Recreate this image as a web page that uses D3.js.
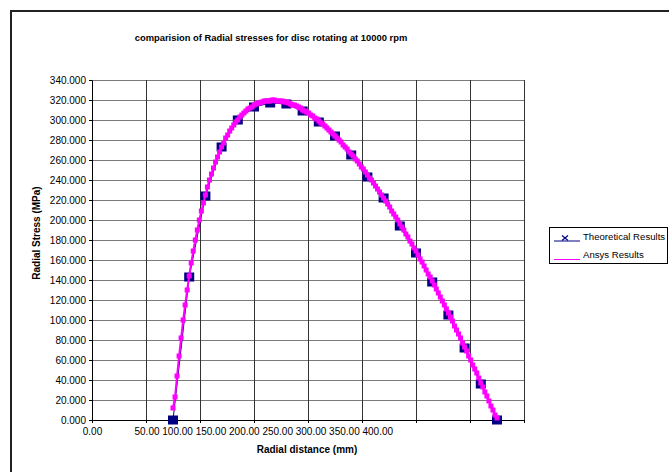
<!DOCTYPE html>
<html>
<head>
<meta charset="utf-8">
<script src="https://cdn.jsdelivr.net/npm/d3@7"></script>
<style>
  body { margin: 0; background: #fff; }
  text { font-family: Arial, "Liberation Sans", sans-serif; fill: #000; }
</style>
</head>
<body>
<svg id="chart"></svg>
<script>
// theoretical results (navy squares), radius in mm, stress in MPa
const theoRadius = [75, 90, 105, 120, 135, 150, 165, 180, 195, 210, 225, 240, 255, 270, 285, 300, 315, 330, 345, 360, 375]
const theoStress = [0, 143, 224, 273, 300, 313, 317, 316, 309, 298, 284, 265, 243, 222, 194, 167, 138, 105, 72, 36, 0]

// ansys path results (magenta)
const ansysRadius = [
  75, 76.875, 78.75, 80.625, 82.5, 84.375, 86.25, 88.125,
  90, 91.875, 93.75, 95.625, 97.5, 99.375, 101.25, 103.125,
  105, 106.875, 108.75, 110.625, 112.5, 114.375, 116.25, 118.125,
  120, 121.875, 123.75, 125.625, 127.5, 129.375, 131.25, 133.125,
  135, 136.875, 138.75, 140.625, 142.5, 144.375, 146.25, 148.125,
  150, 151.875, 153.75, 155.625, 157.5, 159.375, 161.25, 163.125,
  165, 166.875, 168.75, 170.625, 172.5, 174.375, 176.25, 178.125,
  180, 181.875, 183.75, 185.625, 187.5, 189.375, 191.25, 193.125,
  195, 196.875, 198.75, 200.625, 202.5, 204.375, 206.25, 208.125,
  210, 211.875, 213.75, 215.625, 217.5, 219.375, 221.25, 223.125,
  225, 226.875, 228.75, 230.625, 232.5, 234.375, 236.25, 238.125,
  240, 241.875, 243.75, 245.625, 247.5, 249.375, 251.25, 253.125,
  255, 256.875, 258.75, 260.625, 262.5, 264.375, 266.25, 268.125,
  270, 271.875, 273.75, 275.625, 277.5, 279.375, 281.25, 283.125,
  285, 286.875, 288.75, 290.625, 292.5, 294.375, 296.25, 298.125,
  300, 301.875, 303.75, 305.625, 307.5, 309.375, 311.25, 313.125,
  315, 316.875, 318.75, 320.625, 322.5, 324.375, 326.25, 328.125,
  330, 331.875, 333.75, 335.625, 337.5, 339.375, 341.25, 343.125,
  345, 346.875, 348.75, 350.625, 352.5, 354.375, 356.25, 358.125,
  360, 361.875, 363.75, 365.625, 367.5, 369.375, 371.25, 373.125,
  375
]
const ansysStress = [
  12, 23, 44, 64, 82, 100, 115, 130,
  144, 157, 169, 180, 190, 200, 209, 217,
  225, 233, 240, 246, 252, 258, 263, 268,
  273, 277, 282, 285, 289, 292, 295, 298,
  300, 303, 305, 307, 309, 311, 312, 313,
  315, 316, 317, 317, 318, 319, 319, 319,
  319, 320, 320, 319, 319, 319, 319, 318,
  318, 317, 316, 315, 315, 314, 313, 312,
  310, 309, 308, 307, 305, 304, 302, 301,
  299, 297, 296, 294, 292, 290, 288, 286,
  284, 282, 280, 278, 275, 273, 271, 268,
  266, 264, 261, 259, 256, 253, 251, 248,
  245, 242, 240, 237, 234, 231, 228, 225,
  222, 219, 216, 213, 209, 206, 203, 200,
  196, 193, 190, 186, 183, 179, 176, 172,
  169, 165, 161, 158, 154, 150, 146, 143,
  139, 135, 131, 127, 123, 119, 115, 111,
  107, 103, 99, 94, 90, 86, 82, 77,
  73, 69, 64, 60, 55, 51, 47, 42,
  37, 33, 28, 24, 19, 14, 10, 5,
  2
]

const xTicks = [0, 50, 100, 150, 200, 250, 300, 350, 400]
const yTicks = [0, 20, 40, 60, 80, 100, 120, 140, 160, 180, 200, 220, 240, 260, 280, 300, 320, 340]

const width = 669, height = 472

const svg = d3.select("#chart")
  .attr("width", width)
  .attr("height", height)

// chart frame (runs off the right/bottom of the picture)
svg.append("rect")
  .attr("x", 11)
  .attr("y", 11)
  .attr("width", 720)
  .attr("height", 520)
  .attr("fill", "#fff")
  .attr("stroke", "#222")
  .attr("stroke-width", 2)

const x = d3.scaleLinear().domain([0, 400]).range([92, 524])
const y = d3.scaleLinear().domain([0, 340]).range([420, 80])

// GRID
const grid = svg.append("g").attr("class", "grid").attr("shape-rendering", "crispEdges")

grid.selectAll(".hline")
  .data(yTicks)
  .enter().append("line")
  .attr("class", "hline")
  .attr("x1", x(0)).attr("x2", x(400))
  .attr("y1", d => Math.round(y(d)) + 0.5)
  .attr("y2", d => Math.round(y(d)) + 0.5)
  .attr("stroke", "#7a7a7a")

grid.selectAll(".vline")
  .data(xTicks)
  .enter().append("line")
  .attr("class", "vline")
  .attr("x1", d => Math.round(x(d)) + 0.5)
  .attr("x2", d => Math.round(x(d)) + 0.5)
  .attr("y1", y(340)).attr("y2", y(0))
  .attr("stroke", "#333")

// AXES
const yAxis = svg.append("g")
  .attr("transform", `translate(${x(0)},0)`)
  .call(d3.axisLeft(y).tickValues(yTicks).tickFormat(d3.format(".3f")).tickSize(3).tickSizeOuter(0).tickPadding(3))
yAxis.selectAll("text").attr("font-size", 10).attr("font-family", "Arial, 'Liberation Sans', sans-serif")
yAxis.selectAll("line, path").attr("stroke", "#000").attr("shape-rendering", "crispEdges")

const xAxis = svg.append("g")
  .attr("transform", `translate(0,${y(0)})`)
  .call(d3.axisBottom(x).tickValues(xTicks).tickSize(3).tickSizeOuter(0).tickPadding(5)
    .tickFormat((d, i) => i === 0 ? d3.format(".2f")(d) : ""))
xAxis.selectAll("text").attr("font-size", 10).attr("font-family", "Arial, 'Liberation Sans', sans-serif")
xAxis.selectAll("line, path").attr("stroke", "#000").attr("shape-rendering", "crispEdges")

// the rest of the x labels sit packed together, one space apart, starting under 50
const packed = svg.append("text")
  .attr("font-size", 10)
  .attr("y", y(0) + 8)
  .attr("dy", "0.71em")
  .text(xTicks.slice(1).map(d3.format(".2f")).join(" "))
const probe = svg.append("text").attr("font-size", 10).text(d3.format(".2f")(xTicks[1]))
const w50 = probe.node().getComputedTextLength()
probe.remove()
packed.attr("x", x(xTicks[1]) + 1 - w50 / 2)

// TITLES
svg.append("text")
  .attr("x", 271)
  .attr("y", 41)
  .attr("text-anchor", "middle")
  .attr("font-size", 9.4)
  .attr("font-weight", "bold")
  .text("comparision of Radial stresses for disc rotating at 10000 rpm")

svg.append("text")
  .attr("x", (x(0) + x(400)) / 2 - 1)
  .attr("y", 453)
  .attr("text-anchor", "middle")
  .attr("font-size", 10)
  .attr("font-weight", "bold")
  .text("Radial distance (mm)")

svg.append("text")
  .attr("transform", "translate(40,233) rotate(-90)")
  .attr("text-anchor", "middle")
  .attr("font-size", 10)
  .attr("font-weight", "bold")
  .text("Radial Stress (MPa)")

// SERIES
const theo = theoRadius.map((r, i) => ({ r: r, s: theoStress[i] }))
const ansys = ansysRadius.map((r, i) => ({ r: r, s: ansysStress[i] }))

const line = d3.line().x(d => x(d.r)).y(d => y(d.s))

svg.append("path")
  .datum(theo)
  .attr("d", line)
  .attr("fill", "none")
  .attr("stroke", "#000080")
  .attr("stroke-width", 1)

svg.append("g").selectAll("rect")
  .data(theo)
  .enter().append("rect")
  .attr("x", d => x(d.r) - 5)
  .attr("y", d => y(d.s) - 4.5)
  .attr("width", 10)
  .attr("height", 9)
  .attr("fill", "#000080")

svg.append("path")
  .datum(ansys)
  .attr("d", line)
  .attr("fill", "none")
  .attr("stroke", "#ff00ff")
  .attr("stroke-width", 2)

svg.append("g").selectAll("rect")
  .data(ansys)
  .enter().append("rect")
  .attr("x", d => x(d.r) - 2.5)
  .attr("y", d => y(d.s) - 2.5)
  .attr("width", 5)
  .attr("height", 5)
  .attr("fill", "#ff00ff")

// LEGEND
const legend = svg.append("g").attr("class", "legend")
legend.append("rect")
  .attr("x", 549.5).attr("y", 227.5)
  .attr("width", 118).attr("height", 36)
  .attr("fill", "#fff")
  .attr("stroke", "#000")

legend.append("line")
  .attr("x1", 554).attr("x2", 580).attr("y1", 241).attr("y2", 241)
  .attr("stroke", "#000080")
legend.append("path")
  .attr("d", "M562,235.5L568,240.5M568,235.5L562,240.5")
  .attr("stroke", "#000080")
  .attr("stroke-width", 1.2)
legend.append("text")
  .attr("x", 583).attr("y", 239.5)
  .attr("font-size", 9.6)
  .text("Theoretical Results")

legend.append("line")
  .attr("x1", 554).attr("x2", 580).attr("y1", 259.5).attr("y2", 259.5)
  .attr("stroke", "#ff00ff")
legend.append("text")
  .attr("x", 583).attr("y", 257.5)
  .attr("font-size", 9.6)
  .text("Ansys Results")
</script>
</body>
</html>
